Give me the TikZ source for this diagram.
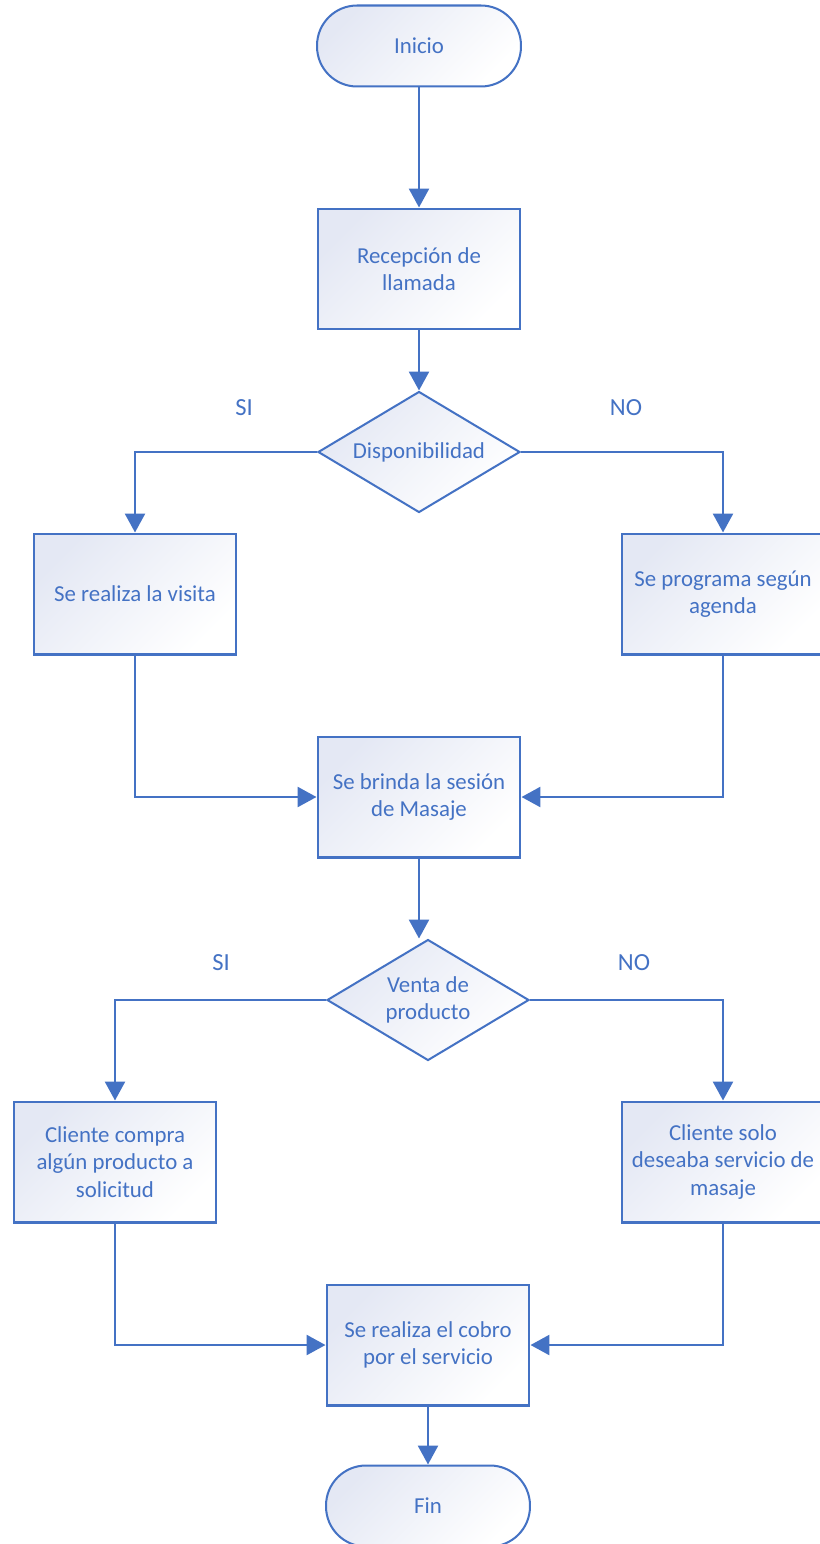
\documentclass[tikz,border=0pt]{standalone}
\usepackage{fontspec}
\setmainfont{Carlito}
\usetikzlibrary{shapes.geometric,arrows.meta}
\definecolor{flowblue}{HTML}{4472C4}
\definecolor{flowfill}{HTML}{E4E8F4}
\begin{document}
\begin{tikzpicture}[x=0.02cm,y=-0.02cm,font=\fontsize{13}{15.5}\selectfont,
  base/.style={draw=flowblue,line width=1.15pt,text=flowblue,align=center,top color=flowfill,bottom color=white,shading angle=45,inner sep=2pt},
  term/.style={base,rectangle,rounded corners=0.8cm,minimum width=4.08cm,minimum height=1.62cm},
  proc/.style={base,rectangle,minimum width=4.06cm,minimum height=2.42cm},
  deci/.style={base,diamond,aspect=1.67,inner sep=0pt,minimum width=4.04cm,minimum height=2.42cm},
  lbl/.style={text=flowblue,font=\fontsize{14}{16}\selectfont},
  link/.style={flowblue,line width=1.5pt,-{Triangle[length=0.38cm,width=0.4cm]}}]
\useasboundingbox (0,0) rectangle (820,1544);
\node[term] (ini) at (419,46) {Inicio};
\node[proc] (rec) at (419,269) {Recepción de\\llamada};
\node[deci] (disp) at (419,452) {Disponibilidad};
\node[proc] (vis) at (135,594) {Se realiza la visita};
\node[proc] (age) at (723,594) {Se programa según\\agenda};
\node[proc] (ses) at (419,797) {Se brinda la sesión\\de Masaje};
\node[deci] (vent) at (428,1000) {Venta de\\producto};
\node[proc] (comp) at (115,1162) {Cliente compra\\algún producto a\\solicitud};
\node[proc] (solo) at (723,1162) {Cliente solo\\deseaba servicio de\\masaje};
\node[proc] (cob) at (428,1345) {Se realiza el cobro\\por el servicio};
\node[term] (fin) at (428,1506) {Fin};
\node[lbl] (si1) at (244,408) {SI};
\node[lbl] (no1) at (626,408) {NO};
\node[lbl] (si2) at (221,963) {SI};
\node[lbl] (no2) at (634,963) {NO};
\draw[link] (ini) -- (rec);
\draw[link] (rec) -- (disp);
\draw[link] (disp.west) -| (vis);
\draw[link] (disp.east) -| (age);
\draw[link] (vis) |- (ses);
\draw[link] (age) |- (ses);
\draw[link] (ses) -- (ses |- vent.north);
\draw[link] (vent.west) -| (comp);
\draw[link] (vent.east) -| (solo);
\draw[link] (comp) |- (cob);
\draw[link] (solo) |- (cob);
\draw[link] (cob) -- (fin);
\end{tikzpicture}
\end{document}
